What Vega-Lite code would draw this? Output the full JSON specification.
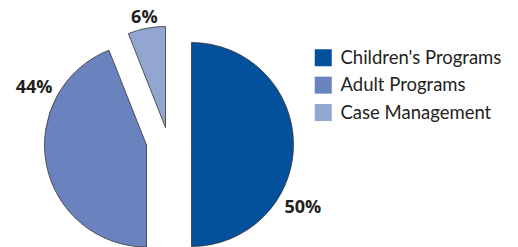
{
  "$schema": "https://vega.github.io/schema/vega-lite/v6.json",
  "width": 383,
  "height": 289,
  "padding": 0,
  "background": "white",
  "view": {"stroke": null},
  "data": {
    "values": [
      {"category": "Children's Programs", "share": 0.50},
      {"category": "Adult Programs", "share": 0.44},
      {"category": "Case Management", "share": 0.06}
    ]
  },
  "transform": [
    {"stack": "share", "groupby": [], "as": ["s0", "s1"], "sort": [{"field": "share", "order": "descending"}]}
  ],
  "encoding": {
    "theta": {"field": "s0", "type": "quantitative", "scale": {"domain": [0, 1], "nice": false, "zero": true}},
    "color": {
      "field": "category",
      "type": "nominal",
      "scale": {
        "domain": ["Children's Programs", "Adult Programs", "Case Management"],
        "range": ["#03519d", "#6a83bf", "#93a5d1"]
      },
      "legend": {
        "title": null,
        "orient": "none",
        "legendX": 314,
        "legendY": 48.5,
        "padding": 0,
        "symbolType": "square",
        "symbolSize": 289,
        "symbolStrokeWidth": 0,
        "symbolOpacity": 1,
        "labelFont": "Lato",
        "labelFontSize": 18.5,
        "labelColor": "#231f20",
        "labelOffset": 8,
        "rowPadding": 8.4,
        "labelLimit": 300
      }
    }
  },
  "layer": [
    {
      "transform": [{"filter": "datum.category === \"Children's Programs\""}],
      "layer": [
        {
          "mark": {"type": "arc", "radius": 102, "stroke": "#333333", "strokeWidth": 0.8},
          "encoding": {"theta2": {"field": "s1"}}
        },
        {
          "mark": {"type": "text", "radius": 128, "thetaOffset": 2.087, "font": "Open Sans", "fontWeight": "bold", "fontSize": 18, "align": "center", "baseline": "middle"},
          "encoding": {"text": {"field": "share", "type": "quantitative", "format": ".0%"}, "color": {"value": "#231f20"}}
        }
      ]
    },
    {
      "transform": [{"filter": "datum.category === 'Adult Programs'"}],
      "layer": [
        {
          "mark": {"type": "arc", "radius": 102, "xOffset": -45, "yOffset": 0.5, "stroke": "#333333", "strokeWidth": 0.8},
          "encoding": {"theta2": {"field": "s1"}}
        },
        {
          "mark": {"type": "text", "radius": 126, "thetaOffset": 2.039, "xOffset": -45, "yOffset": 0.5, "font": "Open Sans", "fontWeight": "bold", "fontSize": 18, "align": "center", "baseline": "middle"},
          "encoding": {"text": {"field": "share", "type": "quantitative", "format": ".0%"}, "color": {"value": "#231f20"}}
        }
      ]
    },
    {
      "transform": [{"filter": "datum.category === 'Case Management'"}],
      "layer": [
        {
          "mark": {"type": "arc", "radius": 101, "xOffset": -26, "yOffset": -17, "stroke": "#333333", "strokeWidth": 0.8},
          "encoding": {"theta2": {"field": "s1"}}
        },
        {
          "mark": {"type": "text", "radius": 112, "thetaOffset": 0.187, "xOffset": -26, "yOffset": -17, "font": "Open Sans", "fontWeight": "bold", "fontSize": 18, "align": "center", "baseline": "middle"},
          "encoding": {"text": {"field": "share", "type": "quantitative", "format": ".0%"}, "color": {"value": "#231f20"}}
        }
      ]
    }
  ]
}
